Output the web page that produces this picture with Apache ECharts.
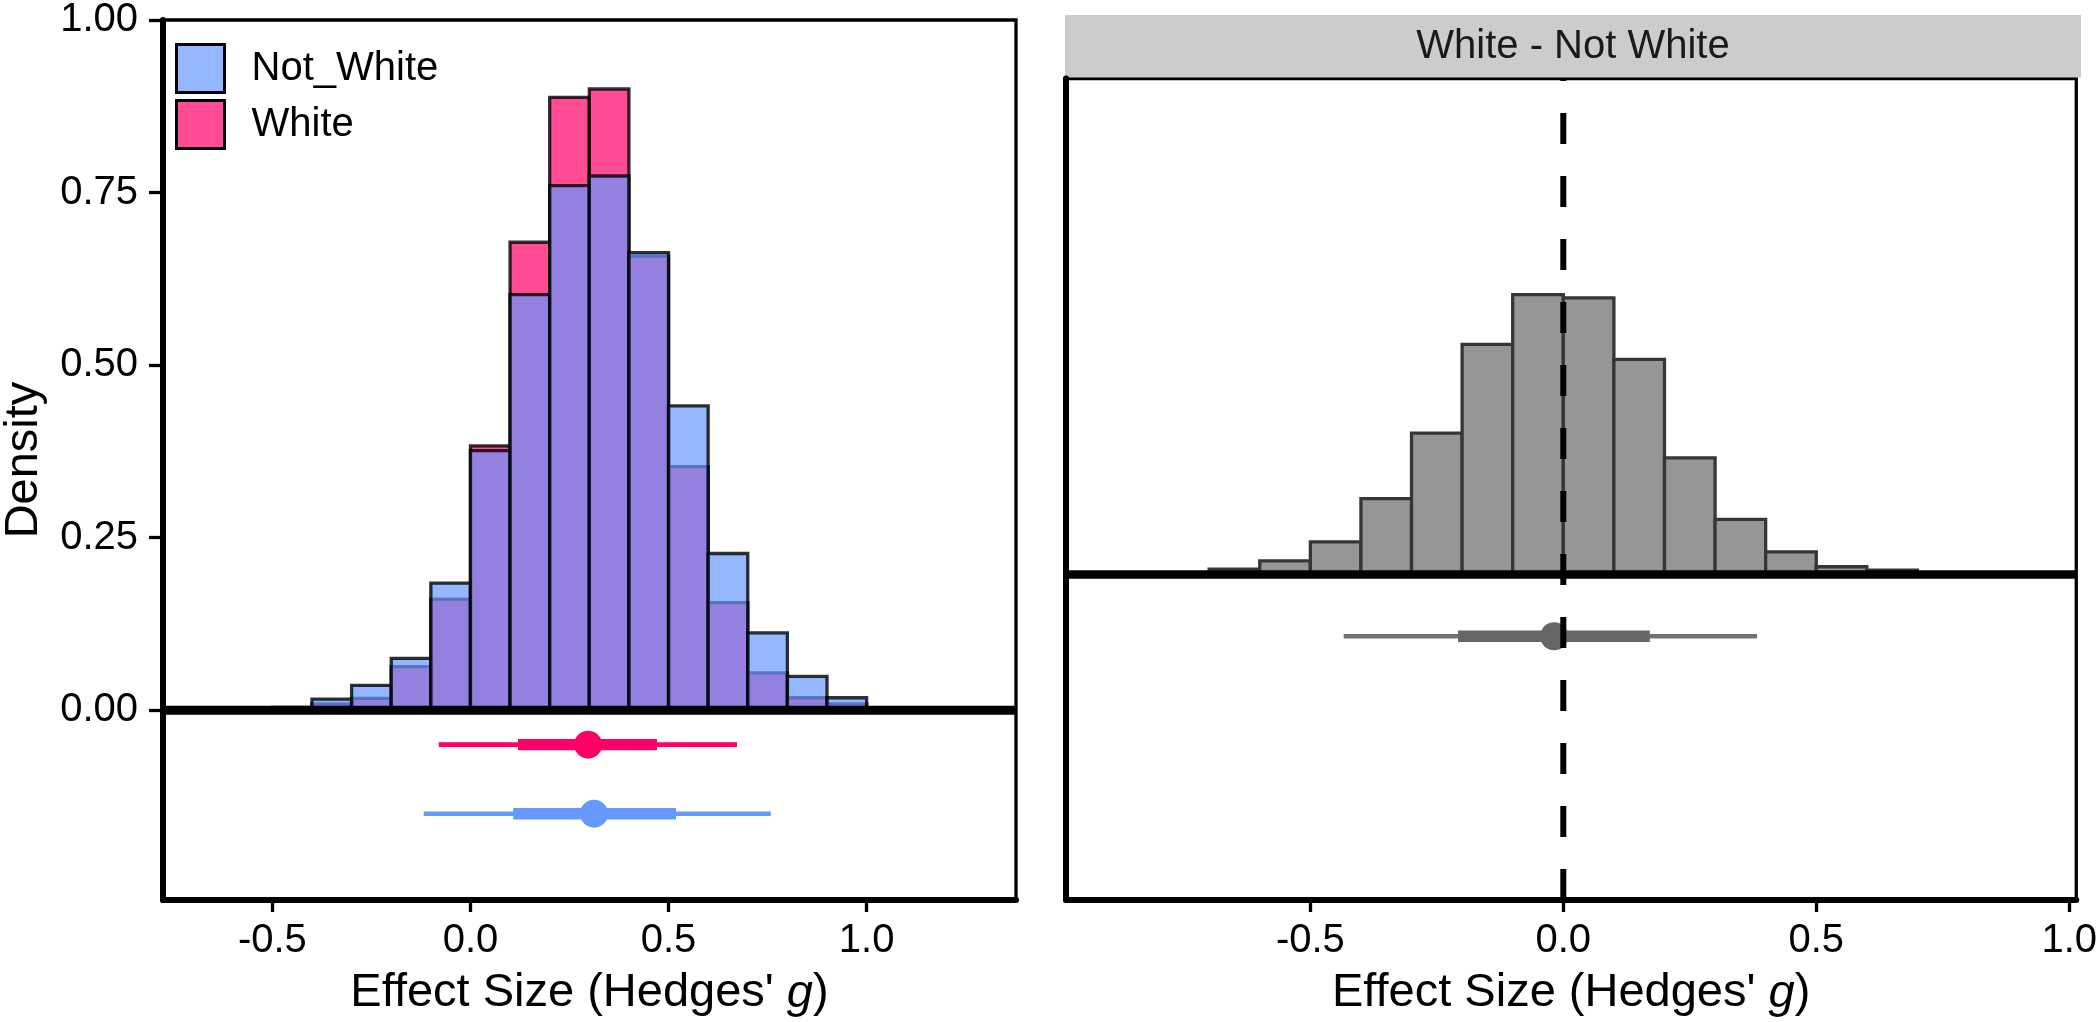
<!DOCTYPE html>
<html><head><meta charset="utf-8">
<script src="https://cdn.jsdelivr.net/npm/echarts@6/dist/echarts.min.js"></script>
<style>html,body{margin:0;padding:0;background:#fff}#c{width:2100px;height:1022px}</style>
</head><body><div id="c"></div>
<script>
// ---------------- data ----------------
const binWidth = 0.1;
const groupBinStarts = [-0.5,-0.4,-0.3,-0.2,-0.1,0.0,0.1,0.2,0.3,0.4,0.5,0.6,0.7,0.8,0.9,1.0];
const notWhiteDensity = [0.004,0.016,0.036,0.075,0.184,0.376,0.602,0.760,0.774,0.663,0.441,0.227,0.112,0.049,0.018,0.003];
const whiteDensity    = [0.003,0.009,0.017,0.063,0.161,0.383,0.678,0.888,0.900,0.658,0.353,0.156,0.054,0.018,0.009,0.001];

const diffBinStarts = [-0.7,-0.6,-0.5,-0.4,-0.3,-0.2,-0.1,0.0,0.1,0.2,0.3,0.4,0.5,0.6];
const diffDensity   = [0.036,0.092,0.221,0.513,0.957,1.559,1.896,1.874,1.457,0.789,0.373,0.153,0.052,0.029];

const groupNames     = ['White','Not_White'];
const groupIntervalY = [-0.05,-0.15];
const groupMedian    = [0.297,0.312];
const groupLo66      = [0.120,0.108];
const groupHi66      = [0.471,0.519];
const groupLo95      = [-0.080,-0.118];
const groupHi95      = [0.673,0.758];

const diffIntervalY = [-0.419];
const diffMedian    = [-0.018];
const diffLo66      = [-0.208];
const diffHi66      = [0.171];
const diffLo95      = [-0.434];
const diffHi95      = [0.383];

const zeroLine   = [0];
const refLineX   = [0];
const xTicks     = [-0.5,0.0,0.5,1.0];
const yTicks     = [0,0.25,0.5,0.75,1.0];
const legendNames = ['Not_White','White'];
const stripLabel = 'White - Not White';
const xTitle = "Effect Size (Hedges' {i|g})";
const yTitle = 'Density';

// ---------------- styles ----------------
const FONT = '"Liberation Sans", Arial, Helvetica, sans-serif';
const colW = 'rgba(255,0,102,0.7)';
const colNW = 'rgba(102,153,255,0.7)';
const ptColors = {White:'#FF0066', Not_White:'#6699FF'};

function histRender(fill, stroke, lw){
  return function(params, api){
    const a = api.coord([api.value(0), api.value(2)]);
    const b = api.coord([api.value(1), 0]);
    return {type:'rect', shape:{x:a[0], y:a[1], width:b[0]-a[0], height:b[1]-a[1]},
            style:{fill:fill, stroke:stroke, lineWidth:lw}};
  };
}
function intervalRender(colorsThin, colorsThick, r){
  return function(params, api){
    const y = api.value(0);
    const p95a = api.coord([api.value(1), y]), p95b = api.coord([api.value(5), y]);
    const p66a = api.coord([api.value(2), y]), p66b = api.coord([api.value(4), y]);
    const pm = api.coord([api.value(3), y]);
    const i = params.dataIndex;
    return {type:'group', children:[
      {type:'line', shape:{x1:p95a[0], y1:p95a[1], x2:p95b[0], y2:p95b[1]}, style:{stroke:colorsThin[i], lineWidth:4.7}},
      {type:'line', shape:{x1:p66a[0], y1:p66a[1], x2:p66b[0], y2:p66b[1]}, style:{stroke:colorsThick[i], lineWidth:11.3}},
      {type:'circle', shape:{cx:pm[0], cy:pm[1], r:r}, style:{fill:colorsThick[i]}}
    ]};
  };
}
function hLineRender(width){
  return function(params, api){
    const cs = params.coordSys;
    const p = api.coord([0, api.value(1)]);
    return {type:'line', shape:{x1:cs.x, y1:p[1], x2:cs.x+cs.width, y2:p[1]}, style:{stroke:'#000', lineWidth:width}};
  };
}
function vDashRender(params, api){
  const cs = params.coordSys;
  const p = api.coord([api.value(0), 0]);
  return {type:'line', shape:{x1:p[0], y1:cs.y+cs.height, x2:p[0], y2:cs.y}, style:{stroke:'#000', lineWidth:6, lineDash:[31,32]}};
}

function xAxisCfg(grid, min, max){
  return {gridIndex:grid, type:'value', min:min, max:max,
    axisLine:{show:true, onZero:false, lineStyle:{color:'#000', width:6}},
    axisTick:{show:true, customValues:xTicks, length:12, lineStyle:{color:'#000', width:3.3}},
    axisLabel:{customValues:xTicks, formatter:v=>v.toFixed(1), fontSize:40, color:'#000', margin:21, fontFamily:FONT},
    splitLine:{show:false},
    name:xTitle, nameLocation:'middle', nameGap:70,
    nameTextStyle:{fontSize:47, color:'#000', fontFamily:FONT, rich:{i:{fontStyle:'italic', fontSize:47, color:'#000', fontFamily:FONT}}}
  };
}

const chart = echarts.init(document.getElementById('c'), null, {renderer:'canvas'});
chart.setOption({
  animation:false,
  backgroundColor:'#fff',
  grid:[
    {left:160.5, top:15.5, width:855.5, height:887.5, show:true, borderColor:'#000', borderWidth:3.3, backgroundColor:'transparent'},
    {left:1066, top:78.5, width:1014.5, height:824.5, show:true, borderColor:'#000', borderWidth:3.3, backgroundColor:'transparent'}
  ],
  xAxis:[ xAxisCfg(0, -0.776, 1.377), xAxisCfg(1, -0.983, 1.014) ],
  yAxis:[
    {gridIndex:0, type:'value', min:-0.275, max:1.0,
     axisLine:{show:true, onZero:false, lineStyle:{color:'#000', width:6}},
     axisTick:{show:true, customValues:yTicks, length:14, lineStyle:{color:'#000', width:3.3}},
     axisLabel:{customValues:yTicks, formatter:v=>v.toFixed(2), fontSize:40, color:'#000', margin:25, fontFamily:FONT},
     splitLine:{show:false},
     name:yTitle, nameLocation:'middle', nameGap:115,
     nameTextStyle:{fontSize:47, color:'#000', fontFamily:FONT}},
    {gridIndex:1, type:'value', min:-2.206, max:3.36,
     axisLine:{show:true, onZero:false, lineStyle:{color:'#000', width:6}},
     axisTick:{show:false}, axisLabel:{show:false}, splitLine:{show:false}}
  ],
  legend:{orient:'vertical', left:170, top:38, itemWidth:48, itemHeight:48, itemGap:5, icon:'rect',
    selectedMode:false,
    textStyle:{fontSize:40, color:'#000', fontFamily:FONT, padding:[0,0,0,22]},
    data:[
      {name:legendNames[0], itemStyle:{color:colNW, borderColor:'#000', borderWidth:3}},
      {name:legendNames[1], itemStyle:{color:colW, borderColor:'#000', borderWidth:3}}
    ]},
  graphic:[
    {type:'rect', shape:{x:1065, y:15, width:1016, height:62.5}, style:{fill:'#CCCCCC'}, z:0},
    {type:'text', x:1573, y:46.5, style:{text:stripLabel, fontSize:40, fontFamily:FONT, fill:'#1a1a1a', align:'center', verticalAlign:'middle'}, z:1}
  ],
  series:[
    {type:'custom', name:'White', xAxisIndex:0, yAxisIndex:0, z:2, itemStyle:{color:colW},
     encode:{x:[0,1], y:2},
     data:groupBinStarts.map((s,i)=>[s, s+binWidth, whiteDensity[i]]),
     renderItem:histRender(colW, 'rgba(0,0,0,0.8)', 3.3)},
    {type:'custom', name:'Not_White', xAxisIndex:0, yAxisIndex:0, z:3, itemStyle:{color:colNW},
     encode:{x:[0,1], y:2},
     data:groupBinStarts.map((s,i)=>[s, s+binWidth, notWhiteDensity[i]]),
     renderItem:histRender(colNW, 'rgba(0,0,0,0.8)', 3.3)},
    {type:'custom', name:'zero0', xAxisIndex:0, yAxisIndex:0, z:4, encode:{x:0, y:1},
     data:zeroLine.map(v=>[0, v]), renderItem:hLineRender(9)},
    {type:'custom', name:'intervals', xAxisIndex:0, yAxisIndex:0, z:5, encode:{x:[1,5], y:0},
     data:groupNames.map((g,i)=>[groupIntervalY[i], groupLo95[i], groupLo66[i], groupMedian[i], groupHi66[i], groupHi95[i]]),
     renderItem:intervalRender(groupNames.map(g=>ptColors[g]), groupNames.map(g=>ptColors[g]), 14)},

    {type:'custom', name:'diff', xAxisIndex:1, yAxisIndex:1, z:2, encode:{x:[0,1], y:2},
     data:diffBinStarts.map((s,i)=>[s, s+binWidth, diffDensity[i]]),
     renderItem:histRender('#969696', '#363636', 3.3)},
    {type:'custom', name:'zero1', xAxisIndex:1, yAxisIndex:1, z:4, encode:{x:0, y:1},
     data:zeroLine.map(v=>[0, v]), renderItem:hLineRender(8.5)},
    {type:'custom', name:'diffInterval', xAxisIndex:1, yAxisIndex:1, z:5, encode:{x:[1,5], y:0},
     data:diffMedian.map((m,i)=>[diffIntervalY[i], diffLo95[i], diffLo66[i], m, diffHi66[i], diffHi95[i]]),
     renderItem:intervalRender(['#737373'], ['#666666'], 14)},
    {type:'custom', name:'ref', xAxisIndex:1, yAxisIndex:1, z:6, encode:{x:0, y:1},
     data:refLineX.map(v=>[v, 0]), renderItem:vDashRender}
  ]
});
</script></body></html>
